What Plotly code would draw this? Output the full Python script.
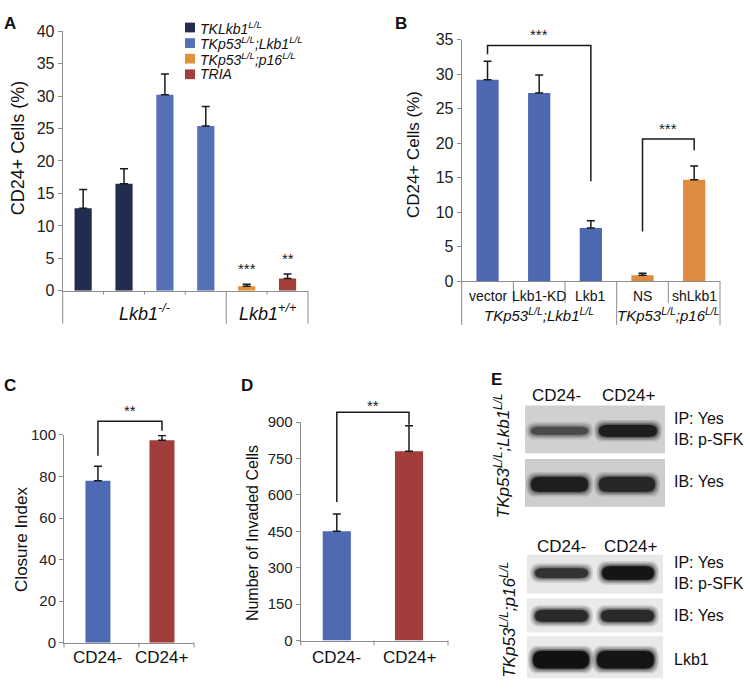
import plotly.graph_objects as go

W, H = 750, 696
FONT = "Arial, Liberation Sans, Helvetica, sans-serif"
AXIS = "#8c8c8c"
INK = "#1a1a1a"

# ---------------- Panel A data ----------------
a_series = ["TKLkb1<sup>L/L</sup>", "TKp53<sup>L/L</sup>;Lkb1<sup>L/L</sup>",
            "TKp53<sup>L/L</sup>;p16<sup>L/L</sup>", "TRIA"]
a_series_x = [[0, 1], [2, 3], [4], [5]]
a_values = [[12.7, 16.5], [30.2, 25.4], [0.7], [1.9]]
a_errors = [[2.9, 2.3], [3.2, 3.0], [0.3], [0.7]]
a_colors = ["#212c4f", "#5570b7", "#e29139", "#a23f3b"]
a_groups = ["Lkb1<sup>-/-</sup>", "Lkb1<sup>+/+</sup>"]
a_group_span = [[0, 3], [4, 5]]
a_sig_x = [4, 5]
a_sig_labels = ["***", "**"]
a_yticks = [0, 5, 10, 15, 20, 25, 30, 35, 40]

# ---------------- Panel B data ----------------
b_categories = ["vector", "Lkb1-KD", "Lkb1", "NS", "shLkb1"]
b_values = [29.2, 27.3, 7.7, 0.85, 14.7]
b_errors = [2.7, 2.6, 1.05, 0.3, 2.0]
b_colors = ["#4c68b0", "#4c68b0", "#4c68b0", "#dc8b40", "#dc8b40"]
b_groups = ["TKp53<sup>L/L</sup>;Lkb1<sup>L/L</sup>", "TKp53<sup>L/L</sup>;p16<sup>L/L</sup>"]
b_group_span = [[0, 2], [3, 4]]
b_brackets = [dict(x=(0, 2), legs=(32.9, 14.5), top=34.2, label="***"),
              dict(x=(3, 4), legs=(7.2, 19.0), top=20.6, label="***")]
b_yticks = [0, 5, 10, 15, 20, 25, 30, 35]

# ---------------- Panel C data ----------------
c_categories = ["CD24-", "CD24+"]
c_values = [78.0, 97.5]
c_errors = [7.0, 2.3]
c_colors = ["#4e6ab3", "#9f3d3a"]
c_bracket = dict(x=(0, 1), legs=(90.0, 102.0), top=106.6, label="**")
c_ticks_x = [-0.53, 0.64, 1.5]
c_yticks = [0, 20, 40, 60, 80, 100]

# ---------------- Panel D data ----------------
d_categories = ["CD24-", "CD24+"]
d_values = [450, 780]
d_errors = [71, 105]
d_colors = ["#4e6ab3", "#a13e3b"]
d_bracket = dict(x=(0, 1), legs=(571, 889), top=940, label="**")
d_ticks_x = [-0.5, 0.515, 1.54]
d_yticks = [0, 150, 300, 450, 600, 750, 900]

# ---------------- Panel E (blot) labels ----------------
e_lanes = ["CD24-", "CD24+"]
e_group_titles = ["TKp53<sup>L/L</sup>;Lkb1<sup>L/L</sup>", "TKp53<sup>L/L</sup>;p16<sup>L/L</sup>"]
e_blot_labels = ["IP: Yes<br>IB: p-SFK", "IB: Yes", "IP: Yes<br>IB: p-SFK", "IB: Yes", "Lkb1"]

# ---------------- geometry ----------------
geo = {
    "A": dict(n=1, box=(62.7, 22.7, 308.0, 289.3), xr=[-0.5, 5.5], yr=[0, 40], ticks=a_yticks, tfs=16),
    "B": dict(n=2, box=(461.7, 31.7, 720.0, 279.3), xr=[-0.5, 4.5], yr=[0, 35], ticks=b_yticks, tfs=16),
    "C": dict(n=3, box=(64.0, 437.3, 194.0, 650.5), xr=[-0.53, 1.5], yr=[0, 100], ticks=c_yticks, tfs=15),
    "D": dict(n=4, box=(300.7, 424.0, 448.0, 648.3), xr=[-0.5, 1.54], yr=[0, 900], ticks=d_yticks, tfs=15),
}


def ids(p):
    n = geo[p]["n"]
    s = "" if n == 1 else str(n)
    return "x" + s, "y" + s


def dx(p, v):
    xr = geo[p]["xr"]
    return (v - xr[0]) / (xr[1] - xr[0])


def dy(p, v):
    yr = geo[p]["yr"]
    return (v - yr[0]) / (yr[1] - yr[0])


def dpx(p, pixels):
    b = geo[p]["box"]
    return pixels / (b[3] - b[1])


fig = go.Figure()
shapes, annotations = [], []
layout_axes = {}

for p, g in geo.items():
    xid, yid = ids(p)
    x0, y0, x1, y1 = g["box"]
    layout_axes["xaxis" + xid[1:]] = dict(
        domain=[x0 / W, x1 / W], range=g["xr"], anchor=yid, showline=True, linecolor=AXIS,
        linewidth=1, showticklabels=False, ticks="", showgrid=False, zeroline=False, fixedrange=True)
    layout_axes["yaxis" + yid[1:]] = dict(
        domain=[1 - y1 / H, 1 - y0 / H], range=g["yr"], anchor=xid, showline=True, linecolor=AXIS,
        linewidth=1, ticks="outside", ticklen=4, tickcolor=AXIS, tickvals=g["ticks"],
        tickfont=dict(size=g["tfs"], color="#222", family=FONT), showgrid=False, zeroline=False,
        fixedrange=True)


def err(arr):
    return dict(type="data", array=arr, arrayminus=[0] * len(arr), symmetric=False,
                color=INK, thickness=1.5, width=4)


def vtick(p, xv, length_px):
    xid, yid = ids(p)
    d = dx(p, xv)
    shapes.append(dict(type="line", xref=xid + " domain", yref=yid + " domain",
                       x0=d, x1=d, y0=0, y1=-dpx(p, length_px),
                       line=dict(color=AXIS, width=1)))


def bracket(p, br, yshift):
    xid, yid = ids(p)
    xa, xb = br["x"]
    la, lb = br["legs"]
    t = dy(p, br["top"])
    shapes.append(dict(type="path", xref=xid, yref=yid + " domain",
                       path=f"M {xa},{dy(p, la)} L {xa},{t} L {xb},{t} L {xb},{dy(p, lb)}",
                       line=dict(color=INK, width=1.5)))
    annotations.append(dict(xref=xid, yref=yid + " domain", x=(xa + xb) / 2, y=t,
                            yanchor="bottom", text=br["label"], showarrow=False, yshift=yshift,
                            font=dict(size=15, color=INK, family=FONT)))


def ytitle(text, x, y, size):
    annotations.append(dict(xref="paper", yref="paper", x=x / W, y=1 - y / H, text=text,
                            textangle=-90, showarrow=False, xanchor="center", yanchor="middle",
                            font=dict(size=size, color="#111", family=FONT)))


def label(text, x, y, size=17, bold=True, anchor="center", italic=False, angle=0):
    t = f"<b>{text}</b>" if bold else text
    if italic:
        t = f"<i>{t}</i>"
    annotations.append(dict(xref="paper", yref="paper", x=x / W, y=1 - y / H, text=t,
                            showarrow=False, xanchor=anchor, yanchor="middle", textangle=angle,
                            align="left" if anchor == "left" else "center",
                            font=dict(size=size, color="#111", family=FONT)))


# ---------------- Panel A ----------------
for name, xs, vals, errs, col in zip(a_series, a_series_x, a_values, a_errors, a_colors):
    fig.add_trace(go.Bar(x=xs, y=vals, width=0.42, name=name, showlegend=False,
                         marker=dict(color=col, line=dict(width=0)), error_y=err(errs),
                         xaxis="x", yaxis="y"))
ncat_a = sum(len(s) for s in a_series_x)
long_a = sorted({s[0] - 0.5 for s in a_group_span} | {a_group_span[-1][1] + 0.5})
for b in [i + 0.5 for i in range(-1, ncat_a)]:
    vtick("A", b, 33.7 if b in long_a else 4)
for txt, span in zip(a_groups, a_group_span):
    annotations.append(dict(xref="x", yref="y domain", x=(span[0] + span[1]) / 2,
                            y=-dpx("A", 22.7), text=f"<i>{txt}</i>", showarrow=False,
                            yanchor="middle", font=dict(size=18, color="#111", family=FONT)))
flat_vals = [v for s in a_values for v in s]
flat_errs = [v for s in a_errors for v in s]
for xs, lab in zip(a_sig_x, a_sig_labels):
    annotations.append(dict(xref="x", yref="y", x=xs, y=flat_vals[xs] + flat_errs[xs],
                            yanchor="bottom", text=lab, showarrow=False, yshift=5,
                            font=dict(size=15, color=INK, family=FONT)))
# legend (manual)
for i, (name, col) in enumerate(zip(a_series, a_colors)):
    yc = 19 + 16 * i
    shapes.append(dict(type="rect", xref="paper", yref="paper", x0=185 / W, x1=195 / W,
                       y0=1 - (yc + 5) / H, y1=1 - (yc - 5) / H, fillcolor=col,
                       line=dict(width=0)))
    annotations.append(dict(xref="paper", yref="paper", x=198 / W, y=1 - yc / H,
                            text=f"<i>{name}</i>", showarrow=False, xanchor="left",
                            yanchor="middle", font=dict(size=14, color="#111", family=FONT)))
ytitle("CD24+ Cells (%)", 18, 143, 18)
label("A", 10, 15)

# ---------------- Panel B ----------------
bx = list(range(len(b_categories)))
fig.add_trace(go.Bar(x=bx, y=b_values, width=0.43, showlegend=False,
                     marker=dict(color=b_colors, line=dict(width=0)), error_y=err(b_errors),
                     xaxis="x2", yaxis="y2"))
long_b = sorted({s[0] - 0.5 for s in b_group_span} | {b_group_span[-1][1] + 0.5})
for b in [i + 0.5 for i in range(-1, len(b_categories))]:
    vtick("B", b, 45 if b in long_b else 22.5)
for xi, txt in zip(bx, b_categories):
    annotations.append(dict(xref="x2", yref="y2 domain", x=xi, y=-dpx("B", 15), text=txt,
                            showarrow=False, yanchor="middle",
                            font=dict(size=14, color="#111", family=FONT)))
for txt, span in zip(b_groups, b_group_span):
    annotations.append(dict(xref="x2", yref="y2 domain", x=(span[0] + span[1]) / 2,
                            y=-dpx("B", 34), text=f"<i>{txt}</i>", showarrow=False,
                            yanchor="middle", font=dict(size=15, color="#111", family=FONT)))
for br in b_brackets:
    bracket("B", br, 0)
ytitle("CD24+ Cells (%)", 413, 150, 17)
label("B", 401, 15)

# ---------------- Panel C ----------------
cx = list(range(len(c_categories)))
fig.add_trace(go.Bar(x=cx, y=c_values, width=0.39, showlegend=False,
                     marker=dict(color=c_colors, line=dict(width=0)), error_y=err(c_errors),
                     xaxis="x3", yaxis="y3"))
for t in c_ticks_x:
    vtick("C", t, 5)
for xi, txt in zip(cx, c_categories):
    annotations.append(dict(xref="x3", yref="y3 domain", x=xi, y=-dpx("C", 15), text=txt,
                            showarrow=False, yanchor="middle",
                            font=dict(size=17, color="#111", family=FONT)))
bracket("C", c_bracket, 0)
ytitle("Closure Index", 22, 545, 17)
label("C", 10, 386)

# ---------------- Panel D ----------------
dxs = list(range(len(d_categories)))
fig.add_trace(go.Bar(x=dxs, y=d_values, width=0.39, showlegend=False,
                     marker=dict(color=d_colors, line=dict(width=0)), error_y=err(d_errors),
                     xaxis="x4", yaxis="y4"))
for t in d_ticks_x:
    vtick("D", t, 5)
for xi, txt in zip(dxs, d_categories):
    annotations.append(dict(xref="x4", yref="y4 domain", x=xi, y=-dpx("D", 17), text=txt,
                            showarrow=False, yanchor="middle",
                            font=dict(size=17, color="#111", family=FONT)))
bracket("D", d_bracket, -4)
ytitle("Number of Invaded Cells", 252, 538, 16)
label("D", 247, 386)

# ---------------- Panel E (western blot illustration) ----------------
blots = [
    dict(box=(525, 407, 665, 456), bg="#d0d0d0", lanes=[(531, 588), (599, 657)], yc=433,
         h=[8, 12], dark=["#4a4a4a", "#1e1e1e"]),
    dict(box=(525, 462, 665, 511), bg="#cdcdcd", lanes=[(531, 588), (599, 655)], yc=488,
         h=[15, 15], dark=["#1e1e1e", "#262626"]),
    dict(box=(527, 560, 663, 600), bg="#e8e8e8", lanes=[(535, 588), (602, 654)], yc=579,
         h=[10, 14], dark=["#333333", "#151515"]),
    dict(box=(527, 605, 663, 640), bg="#eaeaea", lanes=[(535, 588), (601, 654)], yc=623,
         h=[12, 12], dark=["#2a2a2a", "#2a2a2a"]),
    dict(box=(527, 644, 663, 687), bg="#e9e9e9", lanes=[(533, 589), (597, 654)], yc=668,
         h=[18, 18], dark=["#111111", "#151515"]),
]


def stadium(x0, x1, yt, yb):
    # rounded band outline in paper coordinates
    r = min(9.0, (x1 - x0) / 2)
    ym = (yt + yb) / 2
    X = lambda v: v / W
    Y = lambda v: 1 - v / H
    return (f"M {X(x0 + r)},{Y(yt)} L {X(x1 - r)},{Y(yt)} Q {X(x1)},{Y(yt)} {X(x1)},{Y(ym)} "
            f"Q {X(x1)},{Y(yb)} {X(x1 - r)},{Y(yb)} L {X(x0 + r)},{Y(yb)} "
            f"Q {X(x0)},{Y(yb)} {X(x0)},{Y(ym)} Q {X(x0)},{Y(yt)} {X(x0 + r)},{Y(yt)} Z")


label_y = [431, 485, 579, 623, 668]
for bl, txt, ly in zip(blots, e_blot_labels, label_y):
    x0, y0, x1, y1 = bl["box"]
    shapes.append(dict(type="rect", xref="paper", yref="paper", x0=x0 / W, x1=x1 / W,
                       y0=1 - y1 / H, y1=1 - y0 / H, fillcolor=bl["bg"], line=dict(width=0),
                       layer="below"))
    for (lx0, lx1), hh, col in zip(bl["lanes"], bl["h"], bl["dark"]):
        for grow, op in [(5, 0.15), (3.5, 0.2), (2, 0.3), (0.8, 0.45), (0, 1.0)]:
            shapes.append(dict(type="path", xref="paper", yref="paper",
                               path=stadium(lx0 - grow, lx1 + grow,
                                            bl["yc"] - hh / 2 - grow, bl["yc"] + hh / 2 + grow),
                               fillcolor=col, opacity=op, line=dict(width=0)))
    label(txt, 672, ly, size=16, bold=False, anchor="left")
for hy, (lx_a, lx_b) in zip([397, 552], [(556, 628), (561, 630)]):
    label(e_lanes[0], lx_a, hy, size=17, bold=False)
    label(e_lanes[1], lx_b, hy, size=17, bold=False)
label(e_group_titles[0], 502, 459, size=17, bold=False, italic=True, angle=-90)
label(e_group_titles[1], 508, 627, size=17, bold=False, italic=True, angle=-90)
label("E", 497, 380)

fig.update_layout(
    width=W, height=H, margin=dict(l=0, r=0, t=0, b=0),
    paper_bgcolor="white", plot_bgcolor="rgba(0,0,0,0)",
    barmode="overlay", showlegend=False,
    font=dict(family=FONT, color="#111"),
    shapes=shapes, annotations=annotations,
    **layout_axes,
)

fig.write_html("out.html", config={"displayModeBar": False},
               post_script="document.body.style.margin='0';document.body.style.padding='0';")
